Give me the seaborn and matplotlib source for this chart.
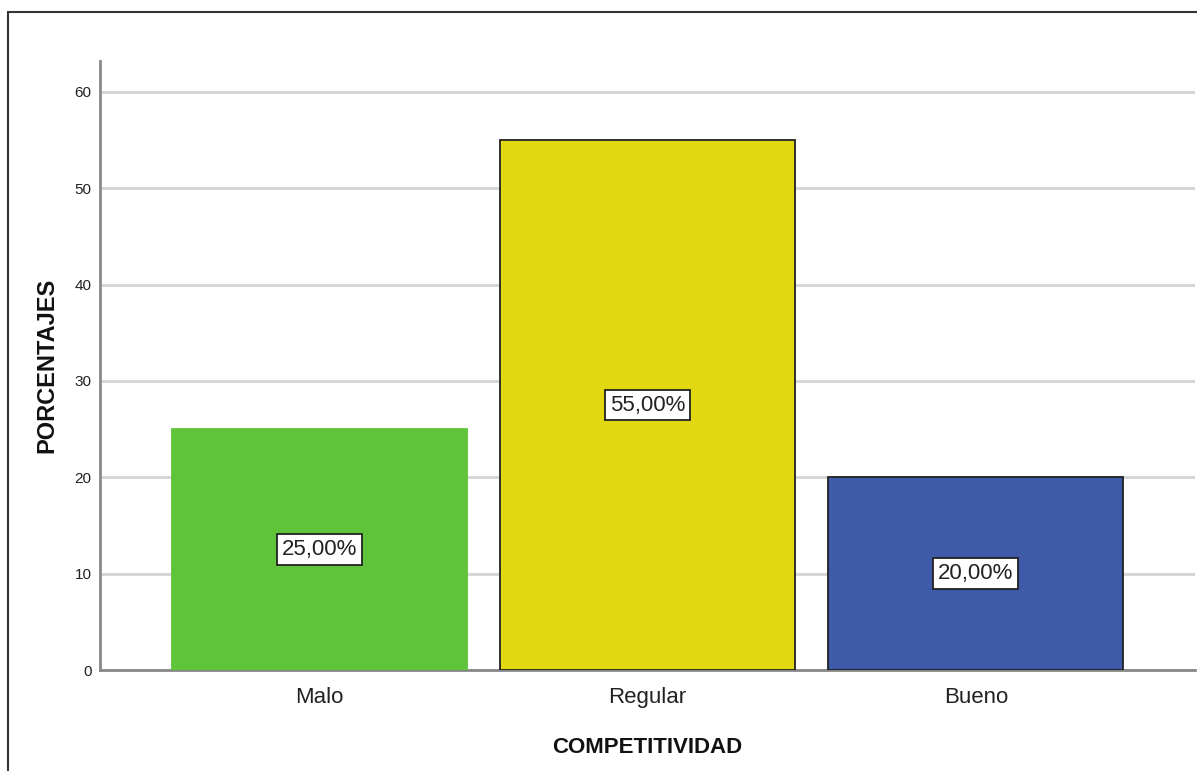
import matplotlib
matplotlib.use("Agg")
import matplotlib.pyplot as plt
from matplotlib.lines import Line2D
from matplotlib import font_manager
import seaborn as sns
import pandas as pd

categories = ["Malo", "Regular", "Bueno"]
values = [25.0, 55.0, 20.0]
labels = ["25,00%", "55,00%", "20,00%"]
colors = ["#5fc43a", "#e2d810", "#3e5aa8"]
edgecolors = ["#5fc43a", "#222222", "#222222"]
yticks = [0, 10, 20, 30, 40, 50, 60]

sns.set_theme(style="white")
plt.rcParams["font.family"] = ["Liberation Sans", "DejaVu Sans"]

installed = {f.name for f in font_manager.fontManager.ttflist}
if "Liberation Sans Narrow" in installed:
    label_family = ["Liberation Sans Narrow", "Liberation Sans"]
    label_size = 19
    label_pad = 0.12
else:
    label_family = ["Liberation Sans", "DejaVu Sans"]
    label_size = 16
    label_pad = 0.22

df = pd.DataFrame({"cat": categories, "val": values})

fig = plt.figure(figsize=(11.97, 7.71), dpi=100)
ax = fig.add_axes([100 / 1197, 1 - 670 / 771, 1095 / 1197, (670 - 61) / 771])

sns.barplot(data=df, x="cat", y="val", hue="cat", palette=colors, order=categories,
            hue_order=categories, width=0.9, legend=False, ax=ax, zorder=3, saturation=1)

for patch, ec in zip(ax.patches, edgecolors):
    patch.set_edgecolor(ec)
    patch.set_linewidth(1.3)

for i, (v, lab) in enumerate(zip(values, labels)):
    ax.text(i, v / 2, lab, ha="center", va="center", fontsize=label_size, family=label_family,
            color="#222222", zorder=5,
            bbox=dict(boxstyle=f"square,pad={label_pad}", fc="white", ec="#222222", lw=1.3))

ax.set_xlim(-0.669, 2.668)
ax.set_ylim(0, 63.2)
ax.set_yticks(yticks)
ax.set_yticklabels([str(t) for t in yticks], fontsize=11, color="#222222")
ax.tick_params(axis="x", labelsize=16, colors="#222222", length=0, pad=12)
ax.tick_params(axis="y", length=0, pad=6)
for lab in ax.get_xticklabels():
    lab.set_color("#222222")

ax.yaxis.grid(True, color="#d4d4d4", linewidth=2, zorder=0)
ax.set_axisbelow(True)

for side in ["top", "right"]:
    ax.spines[side].set_visible(False)
for side in ["left", "bottom"]:
    ax.spines[side].set_color("#888888")
    ax.spines[side].set_linewidth(2)

ax.set_xlabel("COMPETITIVIDAD", fontsize=16, fontweight="bold", color="#111111", labelpad=21)
ax.set_ylabel("PORCENTAJES", fontsize=17, fontweight="bold", color="#111111", labelpad=12)

# figure border (partially visible, like the cropped SPSS frame)
x0 = 8 / 1197
y0 = 1 - 12 / 771
fig.add_artist(Line2D([x0, x0], [-0.05, y0], transform=fig.transFigure, color="#333333", lw=1.5))
fig.add_artist(Line2D([x0, 1.05], [y0, y0], transform=fig.transFigure, color="#333333", lw=1.5))

fig.savefig("out.png", dpi=100)
